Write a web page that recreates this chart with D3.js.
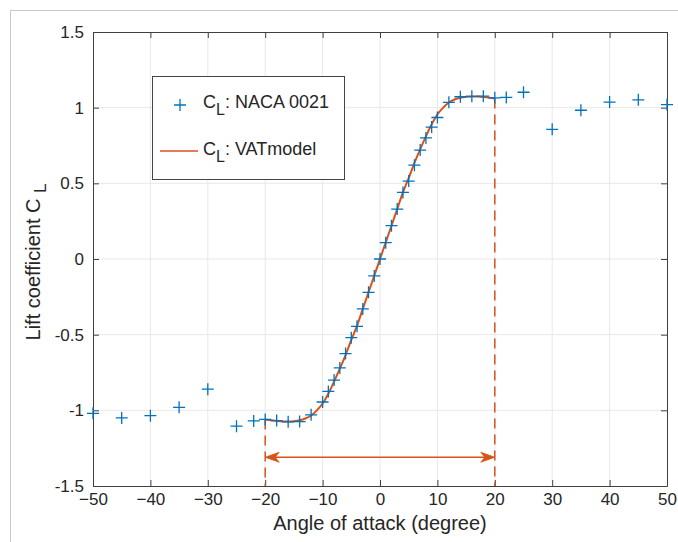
<!DOCTYPE html>
<html>
<head>
<meta charset="utf-8">
<script src="https://cdn.jsdelivr.net/npm/d3@7"></script>
<style>
  html, body { margin: 0; padding: 0; background: #fff; }
  svg { display: block; }
  text { font-family: "Liberation Sans", Arial, Helvetica, sans-serif; fill: #262626; }
</style>
</head>
<body>
<svg id="chart" width="678" height="542"></svg>
<script>
// ---- data ----
const alphaNaca = [-50,-45,-40,-35,-30,-25,-22,-20,-18,-16,-14,-12,-10,-9,-8,-7,-6,-5,-4,-3,-2,-1,0,1,2,3,4,5,6,7,8,9,10,12,14,16,18,20,22,25,30,35,40,45,50];
const clNaca = [-1.02,-1.05,-1.035,-0.98,-0.86,-1.105,-1.07,-1.06,-1.068,-1.076,-1.074,-1.03,-0.945,-0.875,-0.80,-0.72,-0.625,-0.52,-0.445,-0.33,-0.22,-0.112,0,0.108,0.22,0.33,0.44,0.515,0.62,0.72,0.80,0.872,0.935,1.035,1.072,1.075,1.076,1.065,1.068,1.102,0.857,0.983,1.037,1.052,1.02];

const alphaModel = [-20,-19,-18,-17,-16,-15,-14,-13,-12,-11,-10,-9,-8,-7,-6,-5,-4,-3,-2,-1,0,1,2,3,4,5,6,7,8,9,10,11,12,13,14,15,16,17,18,19,20];
const clModel = [-1.06,-1.066,-1.07,-1.073,-1.074,-1.072,-1.066,-1.054,-1.034,-1.0,-0.955,-0.89,-0.81,-0.725,-0.635,-0.535,-0.44,-0.33,-0.22,-0.11,0,0.11,0.22,0.33,0.44,0.535,0.635,0.725,0.81,0.89,0.955,1.0,1.034,1.054,1.066,1.072,1.074,1.073,1.07,1.066,1.06];

const xTicks = [-50,-40,-30,-20,-10,0,10,20,30,40,50];
const yTicks = [-1.5,-1,-0.5,0,0.5,1,1.5];
const yTickLabels = ["-1.5","-1","-0.5","0","0.5","1","1.5"];

const rangeAlpha = [-20, 20];     // dashed limits
const arrowCL = -1.31;            // double arrow level

const legendLabels = ["NACA 0021", "VATmodel"];
const xLabel = "Angle of attack (degree)";
const yLabel = "Lift coefficient C";

// ---- setup ----
const blue = "#0072BD", orange = "#D95319";
const svg = d3.select("#chart");
const x = d3.scaleLinear().domain([-50, 50]).range([93, 667]);
const y = d3.scaleLinear().domain([-1.5, 1.5]).range([486, 32]);

// outer frame lines
svg.append("line").attr("x1", 10).attr("x2", 678).attr("y1", 10.5).attr("y2", 10.5).attr("stroke", "#c8c8c8");
svg.append("line").attr("x1", 10.5).attr("x2", 10.5).attr("y1", 10).attr("y2", 542).attr("stroke", "#c8c8c8");

// grid
const grid = svg.append("g");
grid.selectAll(".gx").data(xTicks.slice(1, -1)).enter().append("line")
  .attr("x1", d => x(d)).attr("x2", d => x(d)).attr("y1", y(-1.5)).attr("y2", y(1.5))
  .attr("stroke", "#e8e8e8").attr("stroke-width", 1);
grid.selectAll(".gy").data(yTicks.slice(1, -1)).enter().append("line")
  .attr("x1", x(-50)).attr("x2", x(50)).attr("y1", d => y(d)).attr("y2", d => y(d))
  .attr("stroke", "#e8e8e8").attr("stroke-width", 1);

// axes
const axisColor = "#404040";
function styleAxis(g) {
  g.select(".domain").attr("stroke", axisColor);
  g.selectAll(".tick line").attr("stroke", axisColor);
  g.selectAll(".tick text").attr("fill", "#262626").style("font-size", "17px")
    .style("font-family", "'Liberation Sans', Arial, sans-serif");
}
svg.append("g").attr("transform", `translate(0,${y(-1.5)})`)
  .call(d3.axisBottom(x).tickValues(xTicks).tickFormat(d3.format("d")).tickSize(-6).tickSizeOuter(0).tickPadding(7))
  .call(styleAxis);
svg.append("g").attr("transform", `translate(0,${y(1.5)})`)
  .call(d3.axisTop(x).tickValues(xTicks).tickFormat("").tickSize(-6).tickSizeOuter(0))
  .call(styleAxis);
svg.append("g").attr("transform", `translate(${x(-50)},0)`)
  .call(d3.axisLeft(y).tickValues(yTicks).tickFormat((d, i) => yTickLabels[i]).tickSize(-6).tickSizeOuter(0).tickPadding(9))
  .call(styleAxis);
svg.append("g").attr("transform", `translate(${x(50)},0)`)
  .call(d3.axisRight(y).tickValues(yTicks).tickFormat("").tickSize(-6).tickSizeOuter(0))
  .call(styleAxis);
svg.selectAll(".domain").attr("fill", "none");

// dashed limit lines
svg.selectAll(".lim").data(rangeAlpha).enter().append("line")
  .attr("x1", d => x(d)).attr("x2", d => x(d))
  .attr("y1", (d, i) => y(i === 0 ? clModel[0] : clModel[clModel.length - 1]))
  .attr("y2", y(-1.5))
  .attr("stroke", orange).attr("stroke-width", 1.5).attr("stroke-dasharray", "10,6");

// double arrow
const ay = y(arrowCL), ax1 = x(rangeAlpha[0]), ax2 = x(rangeAlpha[1]);
svg.append("line").attr("x1", ax1 + 4).attr("x2", ax2 - 4).attr("y1", ay).attr("y2", ay)
  .attr("stroke", orange).attr("stroke-width", 1.5);
function head(tipX, dir) {
  return `M${tipX},${ay} L${tipX + dir * 14},${ay - 5} L${tipX + dir * 10},${ay} L${tipX + dir * 14},${ay + 5} Z`;
}
svg.append("path").attr("d", head(ax1, 1)).attr("fill", orange).attr("stroke", orange).attr("stroke-width", 0.8);
svg.append("path").attr("d", head(ax2, -1)).attr("fill", orange).attr("stroke", orange).attr("stroke-width", 0.8);

// model curve
const line = d3.line().x((d, i) => x(alphaModel[i])).y(d => y(d)).curve(d3.curveMonotoneX);
svg.append("path").datum(clModel).attr("d", line)
  .attr("fill", "none").attr("stroke", orange).attr("stroke-width", 2);

// NACA markers
const ms = 6;
const marks = svg.append("g");
alphaNaca.forEach((a, i) => {
  const cx = x(a), cy = y(clNaca[i]);
  marks.append("path").attr("d", `M${cx - ms},${cy} H${cx + ms} M${cx},${cy - ms} V${cy + ms}`)
    .attr("stroke", blue).attr("stroke-width", 1.3).attr("fill", "none");
});

// legend
const lg = svg.append("g");
lg.append("rect").attr("x", 152.5).attr("y", 76.5).attr("width", 192).attr("height", 103)
  .attr("fill", "#fff").attr("stroke", "#444").attr("stroke-width", 1);
lg.append("path").attr("d", `M${180 - ms},105 H${180 + ms} M180,${105 - ms} V${105 + ms}`)
  .attr("stroke", blue).attr("stroke-width", 1.3);
lg.append("line").attr("x1", 160).attr("x2", 198).attr("y1", 151).attr("y2", 151)
  .attr("stroke", orange).attr("stroke-width", 1.5);
[[108, legendLabels[0]], [155, legendLabels[1]]].forEach(([by, lab]) => {
  const t = lg.append("text").attr("x", 203).attr("y", by).style("font-size", "18px");
  t.append("tspan").text("C");
  t.append("tspan").attr("dy", 7).style("font-size", "16px").text("L");
  t.append("tspan").attr("dy", -7).text(": " + lab);
});

// axis labels
svg.append("text").attr("x", 380).attr("y", 530).attr("text-anchor", "middle")
  .style("font-size", "20px").text(xLabel);
const yl = svg.append("text").attr("transform", "translate(40,262) rotate(-90)")
  .attr("text-anchor", "middle").style("font-size", "20px");
yl.append("tspan").text(yLabel + " ");
yl.append("tspan").attr("dy", 6).style("font-size", "17px").text("L");
</script>
</body>
</html>
